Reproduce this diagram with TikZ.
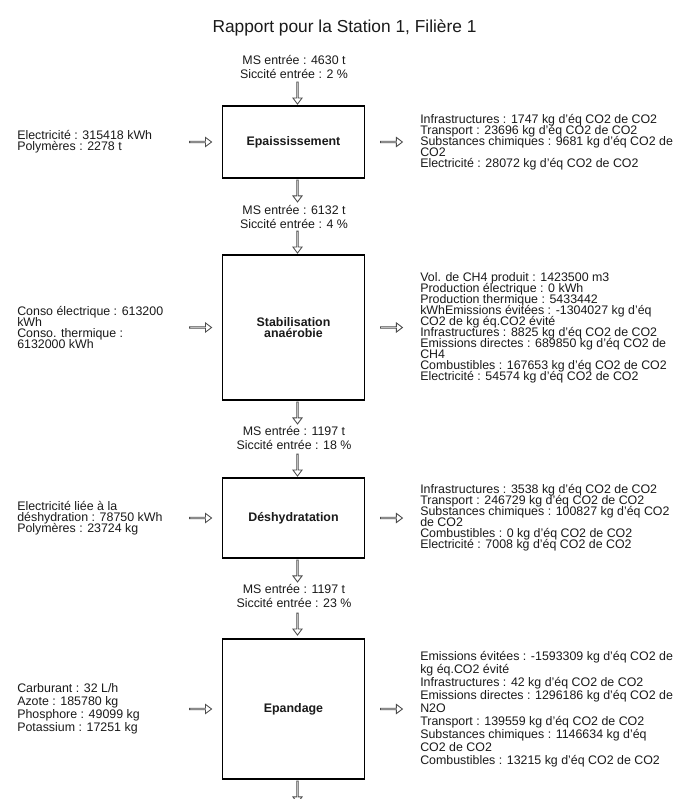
\documentclass[tikz,border=0pt]{standalone}
\usepackage{fontspec}
\setmainfont{Liberation Sans}
\usetikzlibrary{shapes.arrows,calc}
\definecolor{arrgray}{HTML}{4C4C4C}
\definecolor{txt}{HTML}{1A1A1A}
\newcommand\mytight{\lineskiplimit-100pt\relax}
\newcommand\sidefont{\fontsize{9.3}{8.25}\selectfont\mytight}
\newcommand\sidefontb{\fontsize{9.3}{9.75}\selectfont\mytight}
\newcommand\boxfont{\fontsize{9.3}{8.8}\selectfont\bfseries\mytight}
\newcommand\midfont{\fontsize{9.3}{10.5}\selectfont\mytight}
\tikzset{
  box/.style={draw=black, line width=1.4pt, minimum width=106.5pt, inner sep=0pt,
    align=center, text=txt, font=\boxfont},
  side/.style={inner sep=0pt, align=left, text=txt, font=\sidefont},
  sideb/.style={inner sep=0pt, align=left, text=txt, font=\sidefontb},
  mid/.style={inner sep=0pt, align=center, text=txt, font=\midfont},
  arr/.style={single arrow, draw=arrgray, fill=white, line width=0.65pt,
    minimum height=16.5pt, minimum width=6.9pt, single arrow head extend=1.75pt,
    single arrow tip angle=74, inner sep=0pt, outer sep=0pt},
  harr/.style={arr},
  varr/.style={arr, rotate=-90},
}
\begin{document}
\begin{tikzpicture}[x=0.75pt,y=-0.75pt]
\fill[white] (0,0) rectangle (672,799);
\useasboundingbox (0,0) rectangle (672,799);
\coordinate (L) at (17,0);
\coordinate (R) at (420,0);

\node[font=\fontsize{13}{15}\selectfont, text=txt, inner sep=0pt] (title) at (344.5,28)
  {Rapport pour la Station 1, Filière 1};

% boxes
\node[box, minimum height=54pt] (b1) at (293.5,142) {Epaississement};
\node[box, minimum height=108.75pt] (b2) at (293.5,327.5) {Stabilisation\\anaérobie};
\node[box, minimum height=60pt] (b3) at (293.5,518) {Déshydratation};
\node[box, minimum height=105pt] (b4) at (293.5,709) {Epandage};

% middle labels
\node[mid] (m0) at (294,66.5) {MS entrée : 4630 t\\Siccité entrée : 2 \%};
\node[mid] (m1) at (294,217) {MS entrée : 6132 t\\Siccité entrée : 4 \%};
\node[mid] (m2) at (294,438) {MS entrée : 1197 t\\Siccité entrée : 18 \%};
\node[mid] (m3) at (294,596) {MS entrée : 1197 t\\Siccité entrée : 23 \%};

% left texts
\node[side, anchor=west] (l1) at (b1.center -| L) {Electricité : 315418 kWh\\Polymères : 2278 t};
\node[side, anchor=west] (l2) at (b2.center -| L) {Conso électrique : 613200\\kWh\\Conso. thermique :\\6132000 kWh};
\node[side, anchor=west] (l3) at (b3.center -| L) {Electricité liée à la\\déshydration : 78750 kWh\\Polymères : 23724 kg};
\node[sideb, anchor=west] (l4) at (b4.center -| L) {Carburant : 32 L/h\\Azote : 185780 kg\\Phosphore : 49099 kg\\Potassium : 17251 kg};

% right texts
\node[side, anchor=west] (r1) at (b1.center -| R) {Infrastructures : 1747 kg d'éq CO2 de CO2\\Transport : 23696 kg d'éq CO2 de CO2\\Substances chimiques : 9681 kg d'éq CO2 de\\CO2\\Electricité : 28072 kg d'éq CO2 de CO2};
\node[side, anchor=west] (r2) at (b2.center -| R) {Vol. de CH4 produit : 1423500 m3\\Production électrique : 0 kWh\\Production thermique : 5433442\\kWhEmissions évitées : -1304027 kg d'éq\\CO2 de kg éq.CO2 évité\\Infrastructures : 8825 kg d'éq CO2 de CO2\\Emissions directes : 689850 kg d'éq CO2 de\\CH4\\Combustibles : 167653 kg d'éq CO2 de CO2\\Electricité : 54574 kg d'éq CO2 de CO2};
\node[side, anchor=west] (r3) at (b3.center -| R) {Infrastructures : 3538 kg d'éq CO2 de CO2\\Transport : 246729 kg d'éq CO2 de CO2\\Substances chimiques : 100827 kg d'éq CO2\\de CO2\\Combustibles : 0 kg d'éq CO2 de CO2\\Electricité : 7008 kg d'éq CO2 de CO2};
\node[sideb, anchor=west] (r4) at (b4.center -| R) {Emissions évitées : -1593309 kg d'éq CO2 de\\kg éq.CO2 évité\\Infrastructures : 42 kg d'éq CO2 de CO2\\Emissions directes : 1296186 kg d'éq CO2 de\\N2O\\Transport : 139559 kg d'éq CO2 de CO2\\Substances chimiques : 1146634 kg d'éq\\CO2 de CO2\\Combustibles : 13215 kg d'éq CO2 de CO2};

% horizontal arrows
\foreach \b in {b1,b2,b3,b4}{
  \node[harr, anchor=tip] at ($(\b.west)+(-10,0)$) {};
  \node[harr, anchor=tip] at ($(\b.east)+(37,0)$) {};
}
% vertical arrows
\node[varr, anchor=tip] (v0) at ($(b1.north)+(4,-1)$) {};
\node[varr, anchor=tip] (v1) at ($(b1.south)+(4,23)$) {};
\node[varr, anchor=tip] (v2) at ($(b2.north)+(4,-1)$) {};
\node[varr, anchor=tip] (v3) at ($(b2.south)+(4,23)$) {};
\node[varr, anchor=tip] (v4) at ($(b3.north)+(4,-1)$) {};
\node[varr, anchor=tip] (v5) at ($(b3.south)+(4,23)$) {};
\node[varr, anchor=tip] (v6) at ($(b4.north)+(4,-3)$) {};
\node[varr, anchor=tip] (v7) at ($(b4.south)+(4,23)$) {};
\end{tikzpicture}
\end{document}
